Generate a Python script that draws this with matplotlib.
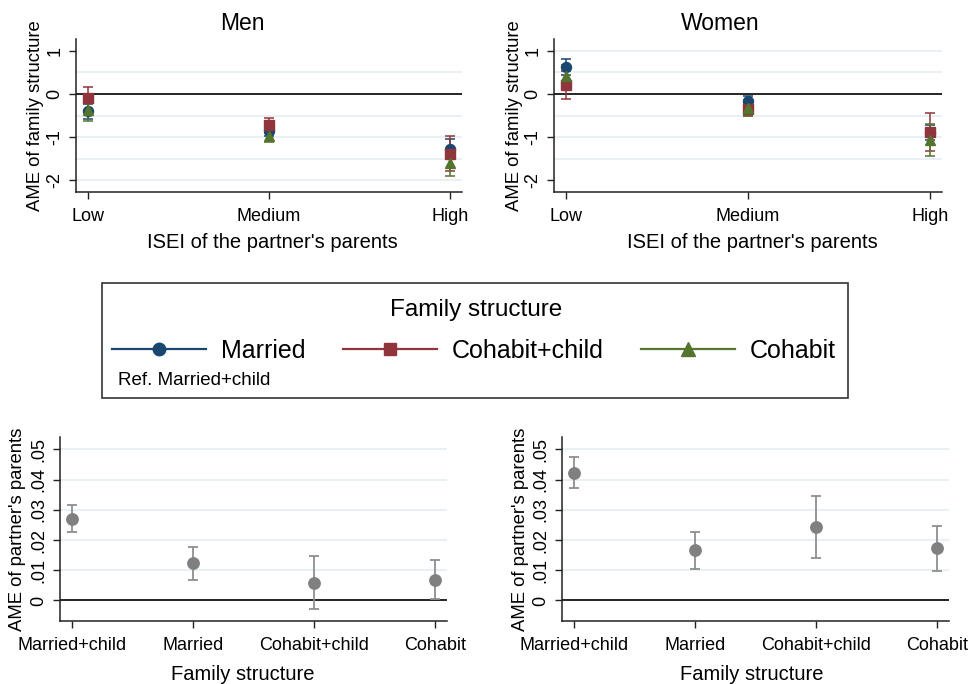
import matplotlib
matplotlib.use("Agg")
import matplotlib.pyplot as plt
from matplotlib.lines import Line2D
from matplotlib.patches import Rectangle
import numpy as np

plt.rcParams['font.family'] = ['Liberation Sans', 'DejaVu Sans']

# ---- data -------------------------------------------------------------
isei_levels = ["Low", "Medium", "High"]
series_names = ["Married", "Cohabit+child", "Cohabit"]
series_colors = ["#1a476f", "#90353b", "#55752f"]
series_markers = ["o", "s", "^"]

# Men: AME of family structure (ref. Married+child) with 95% CI
men_married = [-0.40, -0.85, -1.28]
men_married_lo = [-0.57, -0.97, -1.50]
men_married_hi = [-0.23, -0.73, -1.05]
men_cohchild = [-0.10, -0.73, -1.38]
men_cohchild_lo = [-0.37, -0.90, -1.78]
men_cohchild_hi = [0.17, -0.56, -0.98]
men_cohabit = [-0.37, -0.98, -1.60]
men_cohabit_lo = [-0.62, -1.12, -1.90]
men_cohabit_hi = [-0.12, -0.84, -1.30]

# Women
women_married = [0.62, -0.16, -0.90]
women_married_lo = [0.44, -0.26, -1.07]
women_married_hi = [0.80, -0.06, -0.73]
women_cohchild = [0.20, -0.36, -0.88]
women_cohchild_lo = [-0.12, -0.52, -1.32]
women_cohchild_hi = [0.52, -0.20, -0.45]
women_cohabit = [0.42, -0.32, -1.07]
women_cohabit_lo = [0.18, -0.50, -1.44]
women_cohabit_hi = [0.66, -0.14, -0.70]

# AME of partner's parents' ISEI by family structure
family_structures = ["Married+child", "Married", "Cohabit+child", "Cohabit"]
men_parents = [0.0270, 0.0123, 0.0058, 0.0069]
men_parents_lo = [0.0227, 0.0068, -0.0029, 0.0006]
men_parents_hi = [0.0316, 0.0178, 0.0147, 0.0133]
women_parents = [0.0423, 0.0166, 0.0243, 0.0173]
women_parents_lo = [0.0373, 0.0103, 0.0140, 0.0097]
women_parents_hi = [0.0474, 0.0227, 0.0347, 0.0248]

top_yticks = [1, 0, -1, -2]
top_yticklabels = ["1", "0", "-1", "-2"]
bottom_yticks = [0, 0.01, 0.02, 0.03, 0.04, 0.05]
bottom_yticklabels = ["0", ".01", ".02", ".03", ".04", ".05"]

# ---- figure -------------------------------------------------------------
W, H = 969, 684
fig = plt.figure(figsize=(W / 100, H / 100), dpi=100)
fig.patch.set_facecolor("white")

def px_axes(l, t, r, b):
    return fig.add_axes([l / W, 1 - b / H, (r - l) / W, (b - t) / H])

GRID = "#e4edf1"
TICK_FS = 13
LABEL_FS = 14.5
YLABEL_FS = 13.3


def style_axes(ax):
    for s in ["top", "right"]:
        ax.spines[s].set_visible(False)
    for s in ["left", "bottom"]:
        ax.spines[s].set_linewidth(1.1)
        ax.spines[s].set_color("#222222")
    ax.tick_params(axis="both", direction="out", length=5, width=1.0,
                   color="#222222", labelsize=TICK_FS, pad=4)
    ax.tick_params(axis="x", pad=6.5)
    ax.set_facecolor("white")


def top_panel(ax, data, grid_levels):
    style_axes(ax)
    x = np.arange(len(isei_levels))
    for g in grid_levels:
        ax.axhline(g, color=GRID, lw=1.2, zorder=0)
    ax.axhline(0, color="black", lw=1.2, zorder=1)
    for (est, lo, hi), col, mk in zip(data, series_colors, series_markers):
        est = np.array(est); lo = np.array(lo); hi = np.array(hi)
        ax.errorbar(x, est, yerr=[est - lo, hi - est], fmt=mk, color=col,
                    ecolor=col, elinewidth=1.1, capsize=3.8, capthick=1.1,
                    markersize=7.8 if mk == "^" else 7.2, zorder=3)
    ax.set_xticks(x)
    ax.set_xticklabels(isei_levels)
    ax.set_yticks(top_yticks)
    ax.set_yticklabels(top_yticklabels, rotation=90, va="center")
    ax.set_xlim(-0.065, 2.065)
    ax.set_ylim(-2.27, 1.27)
    ax.set_xlabel("ISEI of the partner's parents", fontsize=LABEL_FS, va="center")
    ax.set_ylabel("AME of family structure", fontsize=YLABEL_FS, va="center")


def bottom_panel(ax, est, lo, hi):
    style_axes(ax)
    x = np.arange(len(family_structures))
    for g in bottom_yticks[1:]:
        ax.axhline(g, color=GRID, lw=1.2, zorder=0)
    ax.axhline(0, color="black", lw=1.2, zorder=1)
    est = np.array(est); lo = np.array(lo); hi = np.array(hi)
    ax.errorbar(x, est, yerr=[est - lo, hi - est], fmt="o", color="#808080",
                ecolor="#8f8f8f", elinewidth=1.3, capsize=3.5, capthick=1.3,
                markersize=8.2, zorder=3)
    ax.set_xticks(x)
    ax.set_xticklabels(family_structures)
    ax.set_yticks(bottom_yticks)
    ax.set_yticklabels(bottom_yticklabels, rotation=90, va="center")
    ax.set_xlim(-0.1, 3.1)
    ax.set_ylim(-0.0068, 0.0541)
    ax.set_xlabel("Family structure", fontsize=LABEL_FS, va="center")
    ax.set_ylabel("AME of partner's parents", fontsize=YLABEL_FS, va="center")


ax_men = px_axes(76, 39, 462, 192)
top_panel(ax_men,
          [(men_married, men_married_lo, men_married_hi),
           (men_cohchild, men_cohchild_lo, men_cohchild_hi),
           (men_cohabit, men_cohabit_lo, men_cohabit_hi)],
          [0.5, -0.5, -1, -1.5, -2])
ax_men.yaxis.set_label_coords(-0.106, 0.5)
ax_men.xaxis.set_label_coords(0.508, -0.327)
fig.text(242 / W, 1 - 24 / H, "Men", fontsize=16.5, ha="center", va="center")

ax_women = px_axes(554, 39, 942, 192)
top_panel(ax_women,
          [(women_married, women_married_lo, women_married_hi),
           (women_cohchild, women_cohchild_lo, women_cohchild_hi),
           (women_cohabit, women_cohabit_lo, women_cohabit_hi)],
          [1, 0.5, -0.5, -1, -1.5])
ax_women.yaxis.set_label_coords(-0.103, 0.5)
ax_women.xaxis.set_label_coords(0.51, -0.327)
fig.text(720 / W, 1 - 24 / H, "Women", fontsize=16.5, ha="center", va="center")

ax_bl = px_axes(60, 437, 447, 621)
bottom_panel(ax_bl, men_parents, men_parents_lo, men_parents_hi)
ax_bl.yaxis.set_label_coords(-0.109, 0.5)
ax_bl.xaxis.set_label_coords(0.472, -0.293)

ax_br = px_axes(562, 437, 949, 621)
bottom_panel(ax_br, women_parents, women_parents_lo, women_parents_hi)
ax_br.yaxis.set_label_coords(-0.108, 0.5)
ax_br.xaxis.set_label_coords(0.491, -0.293)

# ---- shared legend ------------------------------------------------------
fig.add_artist(Rectangle((102 / W, 1 - 398 / H), 746 / W, 115 / H,
                         transform=fig.transFigure, fill=False,
                         edgecolor="#333333", lw=1.2))
fig.text(476 / W, 1 - 310 / H, "Family structure", fontsize=17.5,
         ha="center", va="center")
handles = [Line2D([0], [0], color=c, marker=m, lw=1.6,
                  markersize=9.5 if m == "^" else 9)
           for c, m in zip(series_colors, series_markers)]
fig.legend(handles, series_names, loc="center left",
           bbox_to_anchor=(112 / W, 1 - 351 / H), ncol=3, frameon=False,
           fontsize=18, handlelength=3.75, handletextpad=0.6,
           columnspacing=1.5, borderpad=0, borderaxespad=0, numpoints=1)
fig.text(118 / W, 1 - 381 / H, "Ref. Married+child", fontsize=13.5,
         ha="left", va="center")

fig.savefig("out.png", dpi=100, facecolor="white")
